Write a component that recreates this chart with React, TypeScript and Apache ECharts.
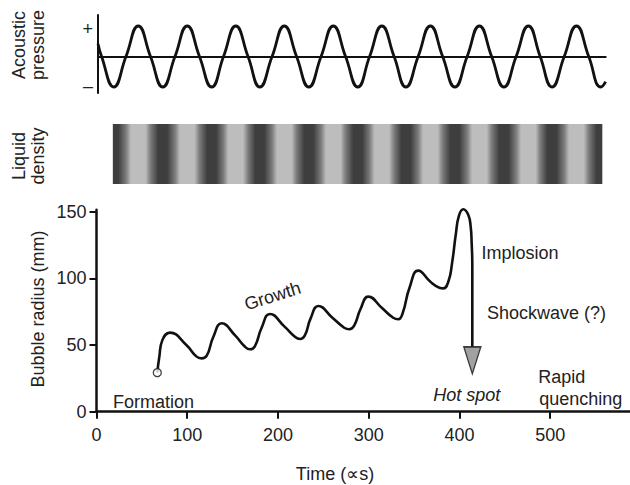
import React, { useEffect, useRef } from 'react';
import * as echarts from 'echarts';

// ---- Acoustic pressure (normalised) ----
const pressureStart = [1.65, 0.42];
const pressureEnd = [561.2, -0.83];
const pressurePeaks = [46, 100, 153.5, 207, 261, 314.5, 368, 422, 476, 529];
const pressureTroughs = [19, 73, 127, 180, 234, 288, 341, 395, 449, 502, 556];
const pressureCrossings = [5.6, 32.5, 59.5, 86.5, 113.5, 140, 167, 193.5, 220.5, 247.5, 274.5, 301, 328, 354.5, 381.5, 408.5, 435.5, 462.5, 489, 515.5, 542.5];
const pressureLabelValues = [-0.967, 0.89];

// ---- Liquid density band extent (time) ----
const densityExtent = [18, 557.5];

// ---- Bubble radius vs time ----
const bubbleTime = [67, 69.2, 72.5, 81, 99, 110, 115.9, 121.5, 128.7, 138, 153, 164, 169.2, 174.5, 182, 191.2, 207, 219, 224.3, 229.5, 236, 244.5, 260, 273, 278.6, 284, 291, 299.6, 315, 327, 332.6, 337.5, 345, 354.7, 368, 378, 382.2, 388, 392, 396, 399.5, 404.3, 409.8, 412.4, 413.5, 414.2, 414.2];
const bubbleRadius = [29.3, 41, 53.5, 59.3, 50, 41.5, 40, 42, 56, 66.3, 57, 48.5, 46.8, 49, 63, 73.3, 64, 56, 54.5, 57, 70, 79.3, 70.5, 63, 61.8, 64.5, 77, 86.3, 77.5, 70.5, 69.3, 74, 93, 105.8, 97.5, 93, 92.5, 98, 112, 133, 147, 151.8, 147.5, 138.8, 126.3, 108.8, 48.75];
const arrowHead = [414.2, 38.5];

const timeTicks = [0, 100, 200, 300, 400, 500];
const radiusTicks = [0, 50, 100, 150];

const FONT = '"Liberation Sans", Arial, Helvetica, sans-serif';
const INK = '#111';
const TXT = '#222';

export default function App() {
  const ref = useRef<HTMLDivElement>(null);
  useEffect(() => {
    const chart = echarts.init(ref.current as HTMLDivElement, null, { renderer: 'svg' });

    const pressureData: number[][] = [pressureStart];
    pressurePeaks.forEach((t) => pressureData.push([t, 1]));
    pressureTroughs.forEach((t) => pressureData.push([t, -1]));
    pressureCrossings.forEach((t) => pressureData.push([t, 0]));
    pressureData.push(pressureEnd);
    pressureData.sort((a, b) => a[0] - b[0]);

    const span = densityExtent[1] - densityExtent[0];
    const dark = '#3e3e3e';
    const light = '#bdbdbd';
    const mid = '#7c7c7c';
    const rawStops: { offset: number; color: string }[] = [];
    pressureTroughs.forEach((t) => {
      rawStops.push({ offset: (t - 5 - densityExtent[0]) / span, color: dark });
      rawStops.push({ offset: (t + 5 - densityExtent[0]) / span, color: dark });
    });
    pressurePeaks.forEach((t) => {
      rawStops.push({ offset: (t - 8 - densityExtent[0]) / span, color: light });
      rawStops.push({ offset: (t + 8 - densityExtent[0]) / span, color: light });
    });
    pressureCrossings.forEach((t) => {
      rawStops.push({ offset: (t - densityExtent[0]) / span, color: mid });
    });
    rawStops.sort((a, b) => a.offset - b.offset);
    const stops = rawStops
      .filter((s) => s.offset >= -0.02 && s.offset <= 1.02)
      .map((s) => ({ offset: Math.min(1, Math.max(0, s.offset)), color: s.color }));

    const bubbleData = bubbleTime.map((t, i) => [t, bubbleRadius[i]]);

    const txt = (text: string, x: number, y: number, extra: any = {}, el: any = {}) => ({
      type: 'text',
      x,
      y,
      ...el,
      style: {
        text,
        fill: TXT,
        fontSize: 18,
        fontFamily: FONT,
        align: 'left',
        verticalAlign: 'middle',
        ...extra,
      },
    });

    const option: any = {
      animation: false,
      backgroundColor: '#fff',
      textStyle: { fontFamily: FONT },
      grid: [
        { left: 98, top: 15, width: 507.7, height: 78 },
        { left: 96.5, top: 124, width: 533.5, height: 60 },
        { left: 96.5, top: 209.7, width: 533.5, height: 202 },
      ],
      xAxis: [
        {
          gridIndex: 0, type: 'value', min: 1.65, max: 561.2,
          axisLine: { show: true, onZero: true, lineStyle: { color: INK, width: 2 } },
          axisTick: { show: false }, axisLabel: { show: false }, splitLine: { show: false },
        },
        { gridIndex: 1, type: 'value', min: 0, max: 588, show: false },
        {
          gridIndex: 2, type: 'value', min: 0, max: 588,
          axisLine: { show: true, onZero: false, lineStyle: { color: INK, width: 2.5 } },
          axisTick: { show: true, customValues: timeTicks, length: 7, lineStyle: { color: INK, width: 2 } },
          axisLabel: { customValues: timeTicks, fontSize: 18, color: TXT, margin: 14, fontFamily: FONT },
          splitLine: { show: false },
        },
      ],
      yAxis: [
        {
          gridIndex: 0, type: 'value', min: -1.197, max: 1.36,
          axisLine: { show: true, onZero: false, lineStyle: { color: INK, width: 2 } },
          axisTick: { show: false },
          axisLabel: {
            customValues: pressureLabelValues,
            formatter: (v: number) => (v > 0 ? '+' : '–'),
            fontSize: 18, color: TXT, margin: 5, fontFamily: FONT,
          },
          splitLine: { show: false },
        },
        { gridIndex: 1, type: 'value', min: 0, max: 1, show: false },
        {
          gridIndex: 2, type: 'value', min: 0, max: 151.5,
          axisLine: { show: true, onZero: false, lineStyle: { color: INK, width: 2.5 } },
          axisTick: { show: true, customValues: radiusTicks, length: 7, lineStyle: { color: INK, width: 2 } },
          axisLabel: { customValues: radiusTicks, fontSize: 18, color: TXT, margin: 10, fontFamily: FONT },
          splitLine: { show: false },
        },
      ],
      series: [
        {
          type: 'line', xAxisIndex: 0, yAxisIndex: 0, data: pressureData,
          smooth: 0.5, symbol: 'none', clip: false,
          lineStyle: { color: INK, width: 2.8 },
        },
        {
          type: 'custom', xAxisIndex: 1, yAxisIndex: 1,
          data: [[densityExtent[0], densityExtent[1], 0]],
          encode: { x: [0, 1], y: 2 },
          renderItem: (params: any, api: any) => {
            const a = api.coord([api.value(0), 0]);
            const b = api.coord([api.value(1), 0]);
            const cs = params.coordSys;
            return {
              type: 'rect',
              shape: { x: a[0], y: cs.y, width: b[0] - a[0], height: cs.height },
              style: { fill: new echarts.graphic.LinearGradient(0, 0, 1, 0, stops) },
            };
          },
        },
        {
          type: 'line', xAxisIndex: 2, yAxisIndex: 2, data: bubbleData,
          smooth: 0.5, symbol: 'none', clip: false,
          lineStyle: { color: INK, width: 2.6 },
        },
        {
          type: 'scatter', xAxisIndex: 2, yAxisIndex: 2, data: [bubbleData[0]],
          symbol: 'circle', symbolSize: 8, clip: false, z: 5,
          itemStyle: { color: '#fff', borderColor: INK, borderWidth: 1.3 },
        },
        {
          type: 'scatter', xAxisIndex: 2, yAxisIndex: 2, data: [arrowHead],
          symbol: 'triangle', symbolRotate: 180, symbolSize: [17, 27], clip: false, z: 5,
          itemStyle: { color: '#8a8a8a', borderColor: INK, borderWidth: 1.5 },
        },
      ],
      graphic: [
        txt('Acoustic\npressure', 28.5, 45, { align: 'center', lineHeight: 19 }, { rotation: Math.PI / 2 }),
        txt('Liquid\ndensity', 28.5, 156, { align: 'center', lineHeight: 19 }, { rotation: Math.PI / 2 }),
        txt('Bubble radius (mm)', 38, 309, { align: 'center' }, { rotation: Math.PI / 2 }),
        txt('Time (∝s)', 335, 474, { align: 'center' }),
        txt('Formation', 113, 402),
        txt('Growth', 272.5, 296, { align: 'center' }, { rotation: (17.4 * Math.PI) / 180 }),
        txt('Implosion', 481.5, 253),
        txt('Shockwave (?)', 487, 313),
        txt('Hot spot', 466.7, 395, { align: 'center', fontStyle: 'italic' }),
        txt('Rapid', 538.3, 377),
        txt('quenching', 539.3, 399),
      ],
    };
    chart.setOption(option);
    return () => chart.dispose();
  }, []);
  return (
    <div
      ref={ref}
      style={{ position: 'fixed', left: 0, top: 0, width: 630, height: 485, background: '#fff' }}
    />
  );
}
